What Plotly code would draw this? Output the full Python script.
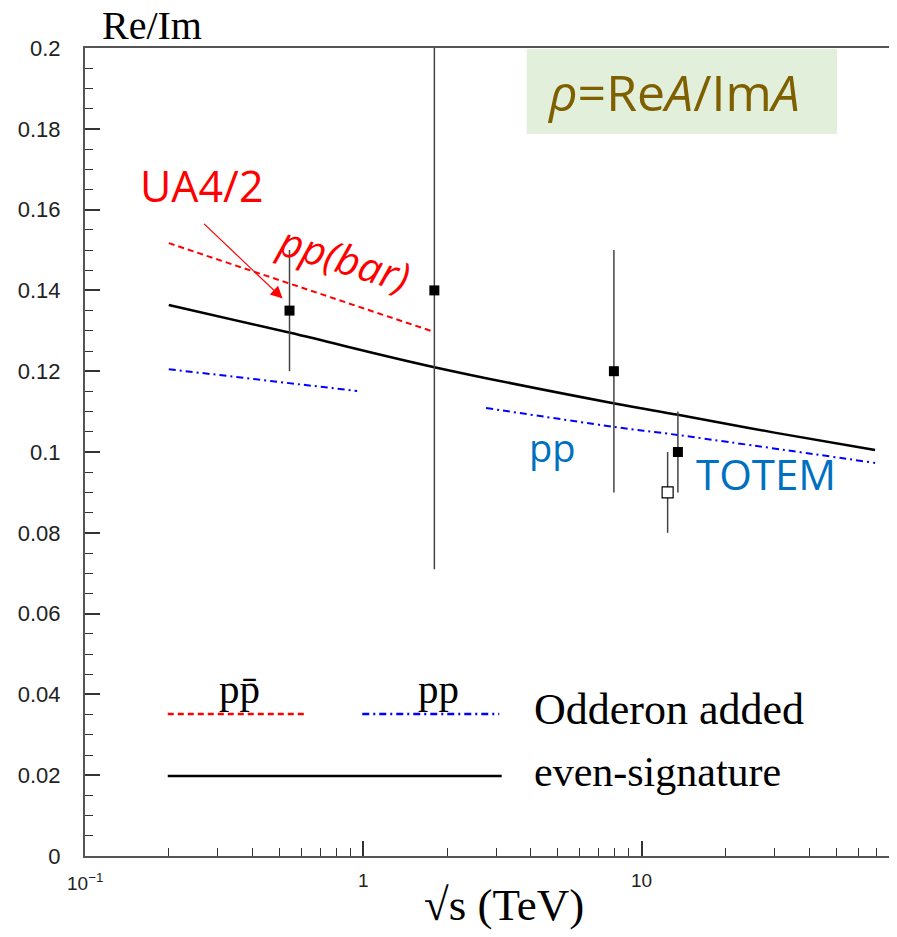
import math
import plotly.graph_objects as go

# ---- data ----
pt_x = [0.543, 1.8, 7.95, 13.5]
pt_y = [0.135, 0.140, 0.120, 0.100]
pt_err = [0.015, 0.069, 0.030, 0.010]

open_x = [12.4]
open_y = [0.090]
open_err = [0.010]

even_x = [0.2, 0.546, 1.8, 8.0, 13.5, 30.0, 69.0]
even_y = [0.1364, 0.1295, 0.1210, 0.1120, 0.1092, 0.1048, 0.1005]

ppbar_x = [0.2, 0.546, 1.8]
ppbar_y = [0.1517, 0.1416, 0.1297]

pp1_x = [0.2, 0.95]
pp1_y = [0.1205, 0.1151]
pp2_x = [2.76, 8.0, 13.5, 69.0]
pp2_y = [0.1109, 0.1062, 0.1042, 0.0973]

y_ticks = [0, 0.02, 0.04, 0.06, 0.08, 0.1, 0.12, 0.14, 0.16, 0.18, 0.2]
y_ticktext = ["0", "0.02", "0.04", "0.06", "0.08", "0.1", "0.12", "0.14", "0.16", "0.18", "0.2"]
x_ticks = [0.1, 1, 10]
x_ticktext = ["10<sup>\u22121</sup>", "1", "10"]

fig = go.Figure()

fig.add_trace(go.Scatter(x=even_x, y=even_y, mode="lines",
                         line=dict(color="black", width=2.5, shape="spline"), showlegend=False))
fig.add_trace(go.Scatter(x=ppbar_x, y=ppbar_y, mode="lines",
                         line=dict(color="#FF0000", width=2, dash="6px,4px"), showlegend=False))
fig.add_trace(go.Scatter(x=pp1_x, y=pp1_y, mode="lines",
                         line=dict(color="#0000FF", width=2, dash="7px,4px,2px,4px"), showlegend=False))
fig.add_trace(go.Scatter(x=pp2_x, y=pp2_y, mode="lines",
                         line=dict(color="#0000FF", width=2, dash="7px,4px,2px,4px", shape="spline"),
                         showlegend=False))

fig.add_trace(go.Scatter(x=pt_x, y=pt_y, mode="markers",
                         marker=dict(symbol="square", size=10, color="black"),
                         error_y=dict(type="data", array=pt_err, color="#444", thickness=1.5, width=0),
                         showlegend=False))
fig.add_trace(go.Scatter(x=open_x, y=open_y, mode="markers",
                         marker=dict(symbol="square", size=11, color="white",
                                     line=dict(color="black", width=1.2)),
                         error_y=dict(type="data", array=open_err, color="#444", thickness=1.5, width=0),
                         showlegend=False))

minor_x = [v * m for v in (0.1, 1, 10) for m in range(2, 10) if v * m < 80]
minor_y = [i * 0.005 for i in range(41) if i % 4 != 0]

fig.update_xaxes(type="log", range=[-1, 1.896],
                 tickvals=x_ticks, showticklabels=False,
                 ticks="inside", ticklen=15, tickwidth=1.5, tickcolor="#333",
                 minor=dict(tickvals=minor_x, ticks="inside", ticklen=8, tickwidth=1.2, tickcolor="#333"),
                 showline=True, linecolor="#555", linewidth=2, mirror=True,
                 showgrid=False, zeroline=False)
fig.update_yaxes(range=[0, 0.2],
                 tickvals=y_ticks, ticktext=y_ticktext,
                 ticks="inside", ticklen=15, tickwidth=1.5, tickcolor="#333",
                 minor=dict(tickvals=minor_y, ticks="inside", ticklen=8, tickwidth=1.2, tickcolor="#333"),
                 showline=True, linecolor="#555", linewidth=2, mirror=True,
                 showgrid=False, zeroline=False,
                 tickfont=dict(family="Liberation Sans", size=22, color="#222"),
                 ticklabelstandoff=18)

# x tick labels placed at the axis tick values
for v, t in zip(x_ticks, x_ticktext):
    fig.add_annotation(x=math.log10(v), y=0, xref="x", yref="paper", text=t, showarrow=False,
                       xanchor="center", yanchor="top", yshift=-12,
                       font=dict(family="Liberation Sans", size=19, color="#222"))

# rho box
fig.add_shape(type="rect", xref="paper", yref="paper", x0=0.548, x1=0.933, y0=0.8936, y1=0.9988,
              fillcolor="#E2EFDA", line=dict(width=0), layer="below")

serif = "Liberation Serif"
sans = "Open Sans"
ann = [
    dict(x=0.0186, y=1.028, text="Re/Im", xanchor="left", font=dict(family=serif, size=40, color="black")),
    dict(x=0.52, y=-0.061, text="\u221As (TeV)", font=dict(family=serif, size=45, color="black")),
    dict(x=0.730, y=0.945, text="<i>\u03C1</i>=Re<i>A</i>/Im<i>A</i>",
         font=dict(family=sans, size=50, color="#7F6000")),
    dict(x=0.1448, y=0.830, text="UA4/2", font=dict(family=sans, size=43, color="#FF0000")),
    dict(x=0.322, y=0.740, text="<i>pp(bar)</i>", textangle=17, font=dict(family=sans, size=41, color="#FF0000")),
    dict(x=0.580, y=0.506, text="pp", font=dict(family=sans, size=38, color="#0070C0")),
    dict(x=0.845, y=0.473, text="TOTEM", font=dict(family=sans, size=42, color="#0070C0")),
    dict(x=0.192, y=0.207, text="pp\u0304", font=dict(family=serif, size=41, color="black")),
    dict(x=0.439, y=0.207, text="pp", font=dict(family=serif, size=41, color="black")),
    dict(x=0.554, y=0.181, text="Odderon added", xanchor="left", font=dict(family=serif, size=44, color="black")),
    dict(x=0.554, y=0.104, text="even-signature", xanchor="left", font=dict(family=serif, size=42, color="black")),
]
for a in ann:
    a.setdefault("xref", "paper")
    a.setdefault("yref", "paper")
    a.setdefault("xanchor", "center")
    a.setdefault("yanchor", "middle")
    a.setdefault("showarrow", False)
    fig.add_annotation(**a)

# arrow UA4/2
fig.add_annotation(x=-0.290, y=0.138, xref="x", yref="y", ax=-80, ay=-76, text="",
                   showarrow=True, arrowcolor="#FF0000", arrowwidth=1.2, arrowhead=2, arrowsize=2)

# legend swatches
fig.add_shape(type="line", xref="paper", yref="paper", x0=0.1027, x1=0.276, y0=0.1757, y1=0.1757,
              line=dict(color="#FF0000", width=2.5, dash="6px,4px"))
fig.add_shape(type="line", xref="paper", yref="paper", x0=0.344, x1=0.514, y0=0.1757, y1=0.1757,
              line=dict(color="#0000FF", width=2.5, dash="7px,4px,2px,4px"))
fig.add_shape(type="line", xref="paper", yref="paper", x0=0.1027, x1=0.517, y0=0.099, y1=0.099,
              line=dict(color="black", width=2.5))

# the page body adds an 8px offset, so the figure is placed accordingly
fig.update_layout(width=889, height=929, margin=dict(l=77, r=4, t=40, b=81),
                  plot_bgcolor="white", paper_bgcolor="white", showlegend=False)

fig.write_html("out.html")
